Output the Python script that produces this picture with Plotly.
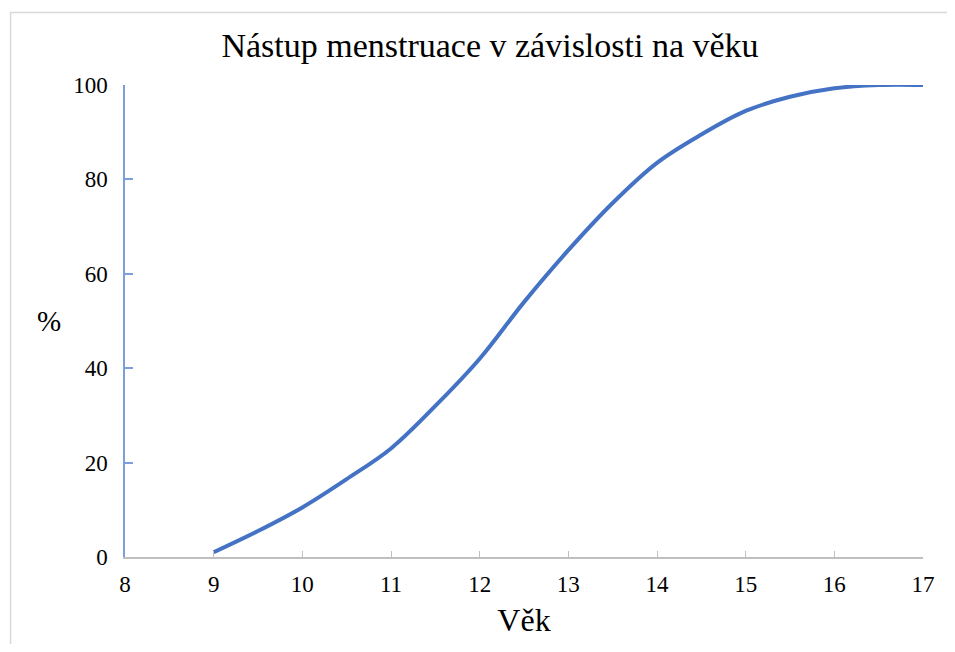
import plotly.graph_objects as go

age = [9, 9.5, 10, 10.5, 11, 11.5, 12, 12.5, 13, 13.5, 14, 14.5, 15, 15.5, 16, 16.5, 17]
percent = [1, 5.5, 10.5, 16.5, 23, 32, 42, 54, 65, 75, 83.5, 89.5, 94.5, 97.5, 99.3, 100, 100]

title_text = "Nástup menstruace v závislosti na věku"
x_title = "Věk"
y_title = "%"

serif = "Liberation Serif, Times New Roman, serif"

fig = go.Figure()
fig.add_trace(go.Scatter(
    x=age, y=percent, mode="lines",
    line=dict(color="#4472C4", width=4, shape="spline", smoothing=1.0),
    showlegend=False,
))

fig.update_layout(
    width=939, height=636,
    paper_bgcolor="white", plot_bgcolor="white",
    margin=dict(l=117, r=13, t=77, b=84),
    title=dict(text=title_text, x=482 / 939, xanchor="center", xref="container",
               y=1 - 37 / 636, yanchor="middle",
               font=dict(family=serif, size=34, color="black")),
    font=dict(family=serif, color="black"),
    shapes=[dict(type="rect", xref="paper", yref="paper",
                 x0=-0.1434, x1=1.2, y0=-0.4, y1=1.1537,
                 line=dict(color="#D9D9D9", width=1.5), layer="below")],
    annotations=[dict(text=y_title, xref="paper", yref="paper",
                      x=-0.095, y=0.501, xanchor="center", yanchor="middle",
                      showarrow=False, font=dict(family=serif, size=29, color="black"))],
)

fig.update_xaxes(
    range=[8, 17], dtick=1, tick0=8,
    showgrid=False, zeroline=False,
    showline=True, linecolor="#BFBFBF", linewidth=1.5,
    ticks="inside", ticklen=6, tickcolor="#BFBFBF", tickwidth=1,
    tickfont=dict(family=serif, size=23, color="black"),
    ticklabelstandoff=6, ticklabeloverflow="allow",
    title=dict(text=x_title, font=dict(family=serif, size=32, color="black"), standoff=12),
)
fig.update_yaxes(
    range=[0, 100], dtick=20, tick0=0,
    showgrid=False, zeroline=False,
    showline=True, linecolor="#7B9FDB", linewidth=1.5,
    ticks="inside", ticklen=8, tickcolor="#7B9FDB", tickwidth=1.5,
    tickfont=dict(family=serif, size=23, color="black"),
    ticklabelstandoff=11,
)

fig.write_html("out.html", config={"displayModeBar": False})
